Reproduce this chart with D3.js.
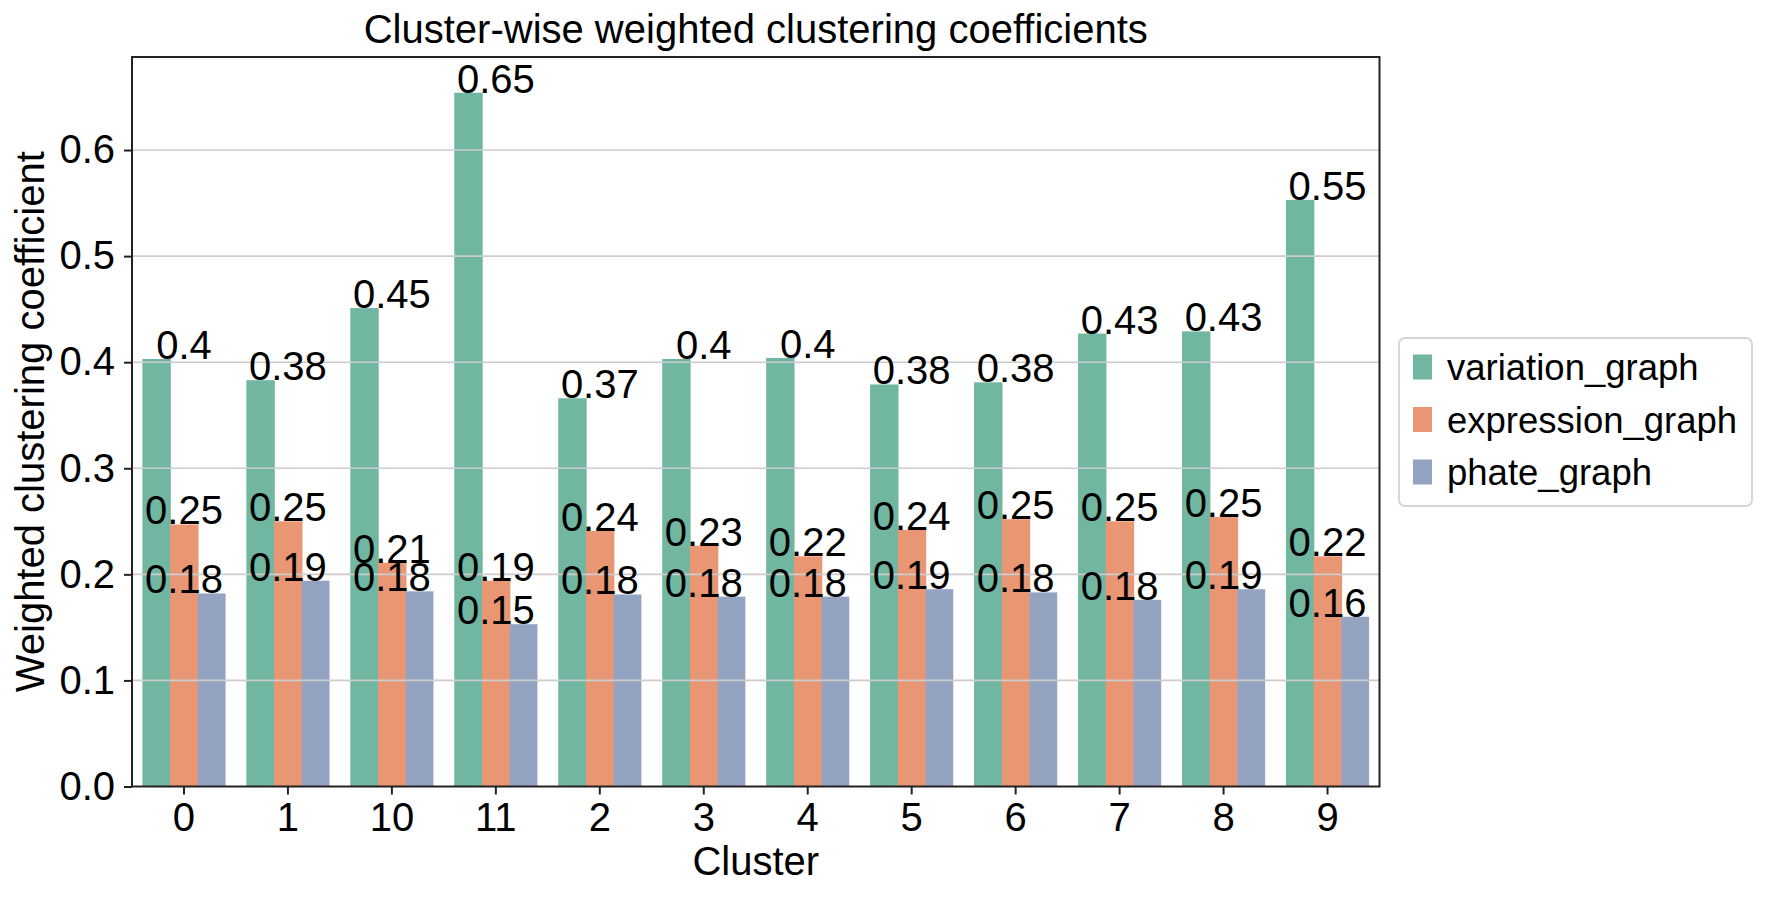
<!DOCTYPE html>
<html>
<head>
<meta charset="utf-8">
<script src="https://cdn.jsdelivr.net/npm/d3@7/dist/d3.min.js"></script>
<style>
  html, body { margin: 0; padding: 0; background: #ffffff; }
  svg { display: block; }
  text { font-family: "Liberation Sans", Arial, Helvetica, sans-serif; fill: #000; }
</style>
</head>
<body>
<svg id="chart" width="1769" height="899"></svg>
<script>
// ---- data ----
const clusters = ["0", "1", "10", "11", "2", "3", "4", "5", "6", "7", "8", "9"];
const seriesNames = ["variation_graph", "expression_graph", "phate_graph"];
const variationGraph  = [0.403, 0.383, 0.451, 0.654, 0.366, 0.403, 0.404, 0.379, 0.381, 0.427, 0.429, 0.553];
const expressionGraph = [0.247, 0.250, 0.211, 0.194, 0.241, 0.227, 0.217, 0.242, 0.252, 0.250, 0.254, 0.217];
const phateGraph      = [0.182, 0.194, 0.184, 0.153, 0.181, 0.179, 0.179, 0.186, 0.183, 0.176, 0.186, 0.160];
const yTicks = [0.0, 0.1, 0.2, 0.3, 0.4, 0.5, 0.6];
const seriesColors = ["#71b6a1", "#e99675", "#95a3c3"];

const seriesValues = [variationGraph, expressionGraph, phateGraph];
const rows = [];
seriesNames.forEach((s, si) => {
  clusters.forEach((c, ci) => rows.push({ cluster: c, series: s, value: seriesValues[si][ci] }));
});

// ---- layout ----
const L = 132, R = 1379.5, T = 57, B = 786.5;
const svg = d3.select("#chart");

const x = d3.scaleBand().domain(clusters).range([L, R]).paddingInner(0.2).paddingOuter(0.1);
const xOuter = d3.scaleBand().domain(clusters).range([L, R]);
const xSub = d3.scaleBand().domain(seriesNames).range([0, x.bandwidth()]);
const y = d3.scaleLinear().domain([0, 0.6877]).range([B, T]);
const color = d3.scaleOrdinal().domain(seriesNames).range(seriesColors);

// bars (slight overlap to avoid anti-aliasing seams between adjacent bars)
svg.append("g").selectAll("rect").data(rows).join("rect")
  .attr("x", d => x(d.cluster) + xSub(d.series))
  .attr("y", d => y(d.value))
  .attr("width", d => xSub.bandwidth() + (d.series === seriesNames[2] ? 0 : 0.7))
  .attr("height", d => y(0) - y(d.value))
  .attr("fill", d => color(d.series));

// grid (drawn above bars, as in reference)
svg.append("g").selectAll("line").data(yTicks.filter(v => v > 0)).join("line")
  .attr("x1", L).attr("x2", R)
  .attr("y1", d => y(d)).attr("y2", d => y(d))
  .attr("stroke", "#cccccc").attr("stroke-width", 1.6);

// y axis
const yAxis = d3.axisLeft(y).tickValues(yTicks).tickFormat(d3.format(".1f")).tickSize(8).tickPadding(9);
const gy = svg.append("g").attr("transform", `translate(${L},0)`).call(yAxis);
gy.select(".domain").remove();
gy.selectAll(".tick line").attr("stroke", "#222").attr("stroke-width", 2);
gy.selectAll(".tick text").attr("font-size", 40).attr("fill", "#000")
  .attr("font-family", "'Liberation Sans', Arial, sans-serif");

// x axis
const xAxis = d3.axisBottom(xOuter).tickSize(8).tickPadding(10);
const gx = svg.append("g").attr("transform", `translate(0,${B})`).call(xAxis);
gx.select(".domain").remove();
gx.selectAll(".tick line").attr("stroke", "#222").attr("stroke-width", 2);
gx.selectAll(".tick text").attr("font-size", 40).attr("fill", "#000")
  .attr("dy", null).attr("y", 44)
  .attr("font-family", "'Liberation Sans', Arial, sans-serif");

// frame
svg.append("rect").attr("x", L).attr("y", T).attr("width", R - L).attr("height", B - T)
  .attr("fill", "none").attr("stroke", "#222").attr("stroke-width", 2);

// value labels (centered on the cluster, baseline at bar top)
svg.append("g").selectAll("text").data(rows).join("text")
  .attr("x", d => xOuter(d.cluster) + xOuter.bandwidth() / 2)
  .attr("y", d => y(d.value))
  .attr("text-anchor", "middle")
  .attr("font-size", 40)
  .text(d => String(+d.value.toFixed(2)));

// title
svg.append("text").attr("x", (L + R) / 2).attr("y", 43).attr("text-anchor", "middle")
  .attr("font-size", 40).text("Cluster-wise weighted clustering coefficients");

// axis labels
svg.append("text").attr("x", (L + R) / 2).attr("y", 875).attr("text-anchor", "middle")
  .attr("font-size", 40).text("Cluster");
svg.append("text").attr("transform", `translate(44,${(T + B) / 2}) rotate(-90)`)
  .attr("text-anchor", "middle").attr("font-size", 40).text("Weighted clustering coefficient");

// legend
const lg = svg.append("g");
const legX = 1399, legY = 338, legW = 353, legH = 168;
lg.append("rect").attr("x", legX).attr("y", legY).attr("width", legW).attr("height", legH)
  .attr("rx", 6).attr("fill", "#fff").attr("stroke", "#d6d6d6").attr("stroke-width", 2);
const legRow = d3.scalePoint().domain(seriesNames).range([367, 472]);
seriesNames.forEach(s => {
  lg.append("rect").attr("x", 1413).attr("y", legRow(s) - 12.5).attr("width", 19).attr("height", 25)
    .attr("fill", color(s));
  lg.append("text").attr("x", 1447).attr("y", legRow(s) + 13).attr("font-size", 36.5).text(s);
});
</script>
</body>
</html>
